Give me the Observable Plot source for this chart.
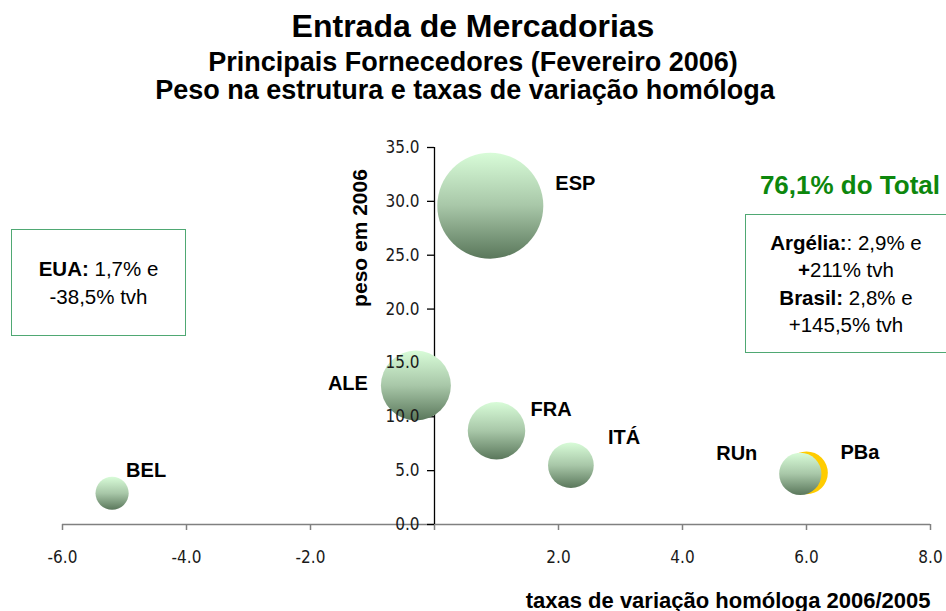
<!DOCTYPE html>
<html>
<head>
<meta charset="utf-8">
<script src="https://cdn.jsdelivr.net/npm/d3@7"></script>
<script src="https://cdn.jsdelivr.net/npm/@observablehq/plot@0.6"></script>
<style>
  html, body { margin: 0; padding: 0; background: #fff; }
  #wrap { position: relative; width: 946px; height: 611px; overflow: hidden; font-family: "Liberation Sans", Arial, sans-serif; color: #000; }
  .t { position: absolute; left: 0px; width: 946px; text-align: center; font-weight: bold; white-space: nowrap; line-height: 1; }
  .box { position: absolute; border: 1px solid #4fa873; box-sizing: border-box; display: flex; flex-direction: column; justify-content: center; align-items: center; font-size: 20.5px; line-height: 27.5px; text-align: center; white-space: nowrap; }
  #chart { position: absolute; left: 0; top: 130px; }
  #total { position: absolute; right: 6px; top: 172px; color: #0d870d; font-weight: bold; font-size: 26px; line-height: 1; white-space: nowrap; }
</style>
</head>
<body>
<div id="wrap">
  <div class="t" style="top:10px;font-size:32px;">Entrada de Mercadorias</div>
  <div class="t" style="top:49px;font-size:27px;">Principais Fornecedores (Fevereiro 2006)</div>
  <div class="t" style="top:77px;font-size:27px;left:-8px;">Peso na estrutura e taxas de variação homóloga</div>
  <div id="chart"></div>
  <div id="total">76,1% do Total</div>
  <div class="box" style="left:11px;top:229px;width:175px;height:107px;">
    <div><b>EUA:</b> 1,7% e</div>
    <div>-38,5% tvh</div>
  </div>
  <div class="box" style="left:745px;top:214px;width:201px;height:139px;border-right:none;">
    <div><b>Argélia:</b>: 2,9% e</div>
    <div><b>+</b>211% tvh</div>
    <div><b>Brasil:</b> 2,8% e</div>
    <div>+145,5% tvh</div>
  </div>
</div>
<script>
// ---- data ----
const countries = ["ESP", "ALE", "FRA", "ITÁ", "BEL", "RUn", "PBa"];
const tvh = [0.9, -0.3, 1.0, 2.2, -5.2, 5.9, 6.0];          // taxa de variação homóloga
const peso = [29.6, 12.9, 8.7, 5.5, 2.9, 4.7, 4.8];          // peso em 2006
const highlighted = ["PBa"];
const xTicks = [-6, -4, -2, 0, 2, 4, 6, 8];
const yTicks = [0, 5, 10, 15, 20, 25, 30, 35];
const xLabel = "taxas de variação homóloga 2006/2005";
const yLabel = "peso em 2006";

const data = countries.map((c, i) => ({name: c, tvh: tvh[i], peso: peso[i]}));

// label placement (styling)
const labelPlace = {
  "ESP": {dx: 65, dy: -22, a: "start"},
  "ALE": {dx: -48, dy: -2, a: "end"},
  "FRA": {dx: 34, dy: -21, a: "start"},
  "ITÁ": {dx: 37, dy: -28, a: "start"},
  "BEL": {dx: 14, dy: -23, a: "start"},
  "RUn": {dx: -43, dy: -20, a: "end"},
  "PBa": {dx: 34, dy: -20, a: "start"}
};

const gradient = () => {
  const defs = d3.create("svg:defs");
  const g = defs.append("linearGradient").attr("id", "bubbleGrad")
    .attr("x1", 0).attr("y1", 0).attr("x2", 0).attr("y2", 1);
  g.append("stop").attr("offset", "0%").attr("stop-color", "#d8fcd8");
  g.append("stop").attr("offset", "50%").attr("stop-color", "#a8c7a8");
  g.append("stop").attr("offset", "100%").attr("stop-color", "#5a775b");
  return defs.node();
};

const fmt = d => d.toFixed(1);
const tickFont = "Liberation Sans Narrow, DejaVu Sans Condensed, sans-serif";

const chart = Plot.plot({
  width: 946,
  height: 481,
  marginTop: 17,
  marginBottom: 87,
  marginLeft: 62,
  marginRight: 16,
  style: {fontFamily: "Liberation Sans, Arial, sans-serif", fontSize: "16px", color: "#000", background: "transparent"},
  x: {domain: [-6, 8], axis: null},
  y: {domain: [0, 35], axis: null},
  r: {type: "sqrt", range: [0, 53]},
  marks: [
    gradient,
    // x axis
    Plot.ruleY([0], {stroke: "#808080", strokeWidth: 1.5}),
    Plot.ruleX(xTicks, {x: d => d, y1: 0, y2: 0, insetBottom: -6, stroke: "#808080", strokeWidth: 1.5}),
    Plot.text(xTicks.filter(d => d !== 0), {x: d => d, frameAnchor: "bottom", lineAnchor: "middle", dy: 33, text: fmt,
      fontFamily: tickFont, fontSize: 17, fill: "#1a1a1a"}),
    // y axis
    Plot.ruleX([0], {y1: 0, y2: 35, stroke: "#000", strokeWidth: 1.3}),
    Plot.ruleY(yTicks, {y: d => d, x1: 0, x2: 0, insetLeft: -7, stroke: "#000", strokeWidth: 1.3}),
    // bubbles
    Plot.dot(data.filter(d => highlighted.includes(d.name)), {x: "tvh", y: "peso", r: "peso", fill: "#ffcc00", stroke: "none"}),
    Plot.dot(data.filter(d => !highlighted.includes(d.name)), {x: "tvh", y: "peso", r: "peso", fill: "url(#bubbleGrad)", stroke: "none"}),
    // y tick labels
    Plot.text(yTicks, {x: 0, y: d => d, text: fmt, textAnchor: "end", dx: -15,
      fontFamily: tickFont, fontSize: 17, fill: "#1a1a1a"}),
    // country labels
    ...countries.map(c => Plot.text(data.filter(d => d.name === c), {
      x: "tvh", y: "peso", text: "name", dx: labelPlace[c].dx, dy: labelPlace[c].dy,
      textAnchor: labelPlace[c].a, fontWeight: "bold", fontSize: 20, fill: "#000"
    })),
    // axis titles
    Plot.text([xLabel], {frameAnchor: "bottom-right", textAnchor: "end", lineAnchor: "bottom", dy: 83,
      fontWeight: "bold", fontSize: 22, fill: "#000"}),
    Plot.text([yLabel], {x: [0], frameAnchor: "middle", rotate: -90, dx: -74, dy: -98,
      fontWeight: "bold", fontSize: 21, fill: "#000"})
  ]
});
document.getElementById("chart").appendChild(chart);
</script>
</body>
</html>
